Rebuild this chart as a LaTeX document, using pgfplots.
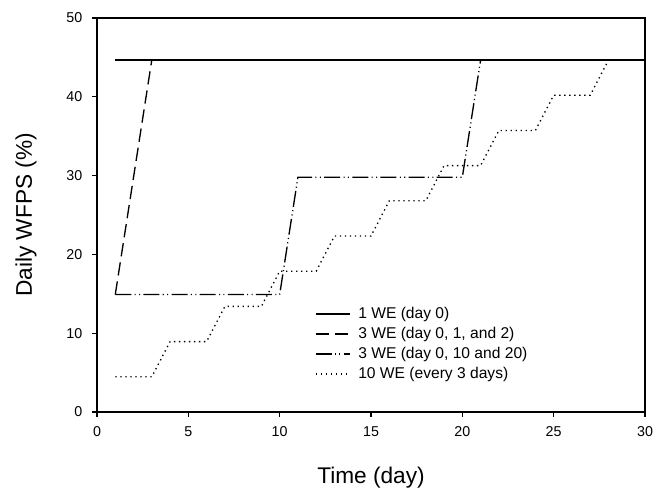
\documentclass[border=0pt]{standalone}
\usepackage{fontspec}
\setmainfont{Liberation Sans}
\usepackage{pgfplots}
\pgfplotsset{compat=1.18}
\begin{document}
\begin{tikzpicture}
\begin{axis}[
 scale only axis, width=411pt, height=295.5pt,
 xmin=0,xmax=30,ymin=0,ymax=50,
 xtick={0,5,...,30}, ytick={0,10,...,50},
 tick align=outside, xtick pos=bottom, ytick pos=left,
 major tick length=3.5pt,
 axis line style={line width=0.8pt},
 tick style={line width=0.8pt, black},
 /pgf/number format/assume math mode=true,
 tick label style={font=\fontsize{10.7}{12}\selectfont},
 xticklabel style={yshift=-4pt},
 yticklabel style={xshift=-4pt},
 xlabel={Time (day)}, ylabel={Daily WFPS (\%)},
 label style={font=\fontsize{17}{20}\selectfont},
 xlabel style={at={(axis description cs:0.5,-0.1675)},anchor=center},
 ylabel style={at={(axis description cs:-0.1296,0.5)},anchor=center},
 legend style={draw=none, fill=none, at={(0.39,0.28)}, anchor=north west, font=\fontsize{11.7}{13}\selectfont, row sep=1pt},
 legend cell align=left,
 legend image code/.code={\draw[#1] (0pt,0pt) -- (25.5pt,0pt); \path[draw=none,fill=none] (0pt,0pt) -- (30pt,0pt);},
]
\addplot[black, line width=1pt] coordinates {(1,44.67) (30,44.67)};
\addlegendentry{1 WE (day 0)}
\addplot[black, line width=1pt, dash pattern=on 10pt off 4.5pt] coordinates {(1,14.9) (3,44.67) (30,44.67)};
\addlegendentry{3 WE (day 0, 1, and 2)}
\addplot[black, line width=1pt, dash pattern=on 12pt off 2.5pt on 0.8pt off 2.5pt on 0.8pt off 2.5pt] coordinates {(1,14.9) (10,14.9) (11,29.8) (20,29.8) (21,44.67) (30,44.67)};
\addlegendentry{3 WE (day 0, 10 and 20)}
\addplot[black, line width=1pt, dash pattern=on 1pt off 2.75pt] coordinates {
(1,4.47) (3,4.47) (4,8.93) (6,8.93) (7,13.4) (9,13.4) (10,17.87) (12,17.87)
(13,22.33) (15,22.33) (16,26.8) (18,26.8) (19,31.27) (21,31.27) (22,35.73) (24,35.73)
(25,40.2) (27,40.2) (28,44.67) (30,44.67)};
\addlegendentry{10 WE (every 3 days)}
\end{axis}
\pgfresetboundingbox
\path[use as bounding box] (current axis.south west) ++(-72.75pt,-57.75pt) rectangle ([shift={(7.5pt,13.5pt)}]current axis.north east);
\end{tikzpicture}
\end{document}
